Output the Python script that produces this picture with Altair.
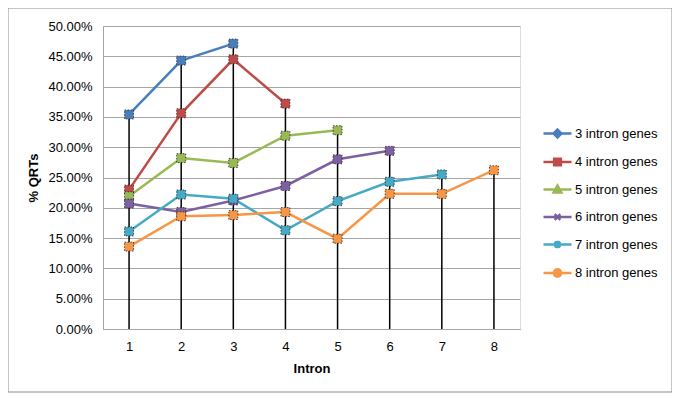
import altair as alt
import pandas as pd

introns = [1, 2, 3, 4, 5, 6, 7, 8]
series_names = ["3 intron genes", "4 intron genes", "5 intron genes",
                "6 intron genes", "7 intron genes", "8 intron genes"]
s3 = [35.4, 44.3, 47.1]
s4 = [23.0, 35.6, 44.5, 37.2]
s5 = [21.9, 28.2, 27.4, 31.9, 32.8]
s6 = [20.7, 19.3, 21.2, 23.6, 28.0, 29.4]
s7 = [16.1, 22.2, 21.5, 16.3, 21.1, 24.3, 25.5]
s8 = [13.6, 18.6, 18.8, 19.3, 14.9, 22.3, 22.3, 26.2]
y_ticks = [0, 0.05, 0.10, 0.15, 0.20, 0.25, 0.30, 0.35, 0.40, 0.45, 0.50]

colors = ["#4A7EBB", "#BE4B48", "#98B954", "#7D60A0", "#46AAC5", "#F79646"]

rows = []
for name, vals in zip(series_names, [s3, s4, s5, s6, s7, s8]):
    for i, v in zip(introns, vals):
        rows.append({"Intron": i, "series": name, "value": v / 100})
df = pd.DataFrame(rows)

# legend symbol paths: line + marker (diamond, square, triangle, x, star, circle)
line = "M-1,0L1,0"
marker_paths = [
    "M0,-0.28L0.28,0L0,0.28L-0.28,0Z",
    "M-0.24,-0.24L0.24,-0.24L0.24,0.24L-0.24,0.24Z",
    "M0,-0.28L0.28,0.22L-0.28,0.22Z",
    "M-0.2,-0.2L0.2,0.2M-0.2,0.2L0.2,-0.2",
    "M-0.2,-0.2L0.2,0.2M-0.2,0.2L0.2,-0.2M0,-0.26L0,0.26",
    "M-0.26,0A0.26,0.26,0,1,1,0.26,0A0.26,0.26,0,1,1,-0.26,0Z",
]
legend_shapes = [line + p for p in marker_paths]

font = "Liberation Sans"
color_scale = alt.Scale(range=colors)
x_enc = alt.X("Intron:O", scale=alt.Scale(type="point", padding=0.5),
              axis=alt.Axis(title="Intron", labelAngle=0, labelFont=font, labelFontSize=13,
                            labelColor="#000", titleFont=font, titleFontSize=13,
                            titleFontWeight="bold", titleColor="#000", ticks=False,
                            labelPadding=11, titlePadding=9, domainColor="#a6a6a6",
                            grid=False))
y_axis = alt.Axis(title="% QRTs", values=y_ticks, format=".2%", labelFont=font,
                  labelFontSize=13, labelColor="#000", titleFont=font,
                  titleFontSize=13, titleFontWeight="bold", titleColor="#000",
                  ticks=False, labelPadding=11, titlePadding=7, labelOverlap=False,
                  domainColor="#a6a6a6", gridColor="#a6a6a6", gridWidth=1)
y_scale = alt.Scale(domain=[0, 0.5], nice=False)

legend = alt.Legend(
    title=None, orient="none", legendX=439, legendY=92, padding=0, labelFont=font,
    labelFontSize=13, labelColor="#000", symbolSize=784, symbolStrokeWidth=2.5,
    labelOffset=2, rowPadding=3.5, symbolOpacity=1,
)

lines = alt.Chart(df).mark_line(strokeWidth=2.5).encode(
    x=x_enc, y=alt.Y("value:Q", scale=y_scale, axis=y_axis),
    color=alt.Color("series:N", scale=color_scale, legend=None),
    detail="series:N",
)

drops = alt.Chart(df).mark_rule(color="black", strokeWidth=1.5).encode(
    x=x_enc, y=alt.Y("max(value):Q", scale=y_scale, axis=y_axis), y2=alt.datum(0)
)

points = alt.Chart(df).mark_point(shape="square", filled=True, size=80, opacity=1,
                                  stroke="#222", strokeWidth=0.8,
                                  strokeDash=[1.5, 1.5]).encode(
    x=x_enc, y=alt.Y("value:Q", scale=y_scale, axis=y_axis),
    color=alt.Color("series:N", scale=color_scale, legend=None),
)

legend_layer = alt.Chart(df).mark_point(
    filled=True, opacity=1, size=784, strokeWidth=2.5
).encode(
    x=x_enc,
    fill=alt.Fill("series:N", scale=alt.Scale(domain=series_names, range=colors),
                  legend=legend),
    stroke=alt.Stroke("series:N", scale=alt.Scale(domain=series_names, range=colors),
                      legend=legend),
    shape=alt.Shape("series:N", scale=alt.Scale(domain=series_names, range=legend_shapes),
                    legend=legend),
    size=alt.value(0),
)

frame = alt.Chart(pd.DataFrame({"a": [0]})).mark_rect(
    fill=None, stroke="#8c8c8c", strokeWidth=1
).encode(x=alt.value(-95), x2=alt.value(569), y=alt.value(-18), y2=alt.value(366))

chart = alt.layer(frame, lines, drops, points, legend_layer).properties(
    width=417, height=303,
    autosize=alt.AutoSizeParams(type="none"),
    padding={"left": 95, "top": 18, "right": 152, "bottom": 64},
).configure_view(stroke=None).configure(background="white")

chart.save("out.html", embed_options={"renderer": "svg", "actions": False})
